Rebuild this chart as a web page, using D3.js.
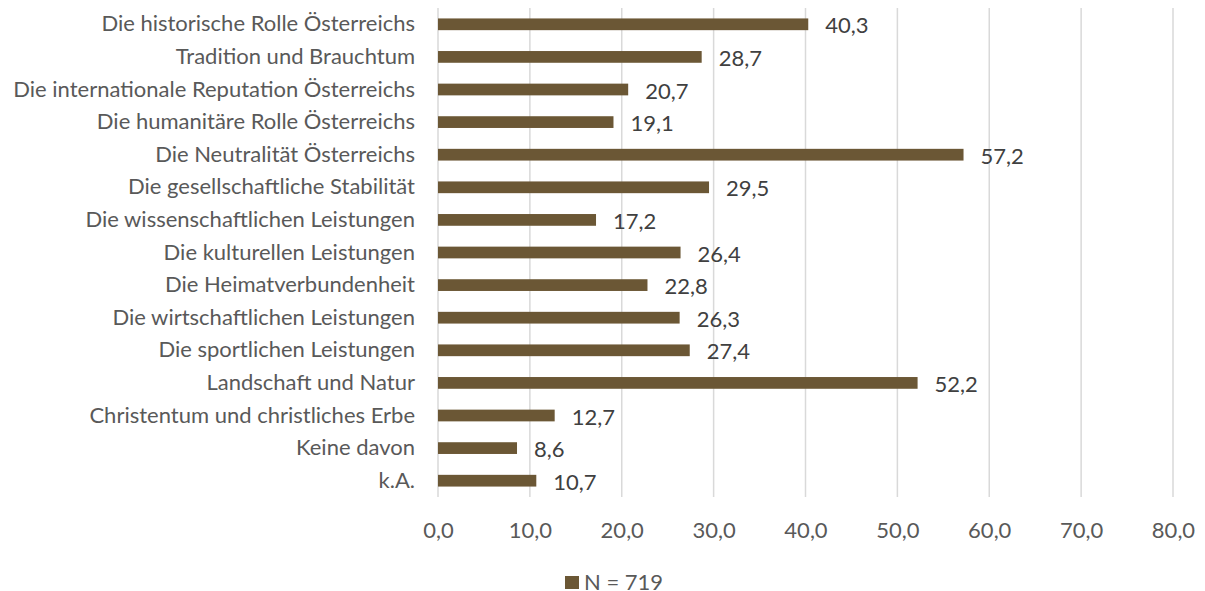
<!DOCTYPE html>
<html>
<head>
<meta charset="utf-8">
<script src="https://cdn.jsdelivr.net/npm/d3@7"></script>
<style>
  body { margin: 0; background: #fff; }
  svg { display: block; font-family: Lato, "Open Sans", sans-serif; }
  .tick text { fill: #595959; }
</style>
</head>
<body>
<svg class="chart" width="1205" height="591"></svg>
<script>
var categories = [
	"Die historische Rolle Österreichs",
	"Tradition und Brauchtum",
	"Die internationale Reputation Österreichs",
	"Die humanitäre Rolle Österreichs",
	"Die Neutralität Österreichs",
	"Die gesellschaftliche Stabilität",
	"Die wissenschaftlichen Leistungen",
	"Die kulturellen Leistungen",
	"Die Heimatverbundenheit",
	"Die wirtschaftlichen Leistungen",
	"Die sportlichen Leistungen",
	"Landschaft und Natur",
	"Christentum und christliches Erbe",
	"Keine davon",
	"k.A."
];
var values = [40.3, 28.7, 20.7, 19.1, 57.2, 29.5, 17.2, 26.4, 22.8, 26.3, 27.4, 52.2, 12.7, 8.6, 10.7];
var xTicks = [0, 10, 20, 30, 40, 50, 60, 70, 80];
var seriesName = "N = 719";

var data = categories.map(function(c, i){ return {name: c, value: values[i]}; });

var margin = {top: 8, right: 32, bottom: 94, left: 438},
	width = 1205 - margin.left - margin.right,
	height = 591 - margin.top - margin.bottom;

var fontSize = '22px';
var fmt = function(v){ return d3.format(".1f")(v).replace(".", ","); };

var x = d3.scaleLinear().domain([0, 80]).range([0, width]);
var y = d3.scaleBand().domain(categories).range([0, height])
	.paddingInner(0.64).paddingOuter(0.32);

var svg = d3.select('.chart');
var chart = svg.append('g')
	.attr('transform', 'translate(' + margin.left + ',' + margin.top + ')');

// gridlines
chart.append('g')
	.selectAll('line')
	.data(xTicks)
	.enter().append('line')
	.attr('x1', function(d){ return x(d); })
	.attr('x2', function(d){ return x(d); })
	.attr('y1', 0)
	.attr('y2', height)
	.attr('stroke', '#d9d9d9')
	.attr('stroke-width', 1.5);

// x axis labels
var xAxis = d3.axisBottom(x).tickValues(xTicks).tickFormat(fmt).tickSize(0).tickPadding(25);
chart.append('g')
	.attr('class', 'x axis')
	.attr('transform', 'translate(0,' + height + ')')
	.call(xAxis)
	.call(function(g){ g.select('.domain').remove(); })
	.selectAll('text')
	.style('font-size', fontSize)
	.style('font-family', 'Lato, "Open Sans", sans-serif');

// y axis labels
var yAxis = d3.axisLeft(y).tickSize(0).tickPadding(23);
chart.append('g')
	.attr('class', 'y axis')
	.call(yAxis)
	.call(function(g){ g.select('.domain').remove(); })
	.selectAll('text')
	.style('font-size', fontSize)
	.style('font-family', 'Lato, "Open Sans", sans-serif');

// bars
chart.selectAll('.bar')
	.data(data)
	.enter().append('rect')
	.attr('class', 'bar')
	.attr('x', x(0))
	.attr('y', function(d){ return y(d.name); })
	.attr('width', function(d){ return x(d.value) - x(0); })
	.attr('height', y.bandwidth())
	.attr('fill', '#6b5735');

// value labels
chart.selectAll('.val')
	.data(data)
	.enter().append('text')
	.attr('class', 'val')
	.attr('x', function(d){ return x(d.value) + 17; })
	.attr('y', function(d){ return y(d.name) + y.bandwidth() / 2 + 2; })
	.attr('dy', '0.32em')
	.attr('fill', '#404040')
	.style('font-size', fontSize)
	.text(function(d){ return fmt(d.value); });

// legend
var legend = svg.append('g').attr('transform', 'translate(565,576)');
legend.append('rect')
	.attr('width', 14).attr('height', 13)
	.attr('fill', '#6b5735');
legend.append('text')
	.attr('x', 19).attr('y', 7).attr('dy', '0.32em')
	.attr('fill', '#595959')
	.style('font-size', fontSize)
	.text(seriesName);
</script>
</body>
</html>
